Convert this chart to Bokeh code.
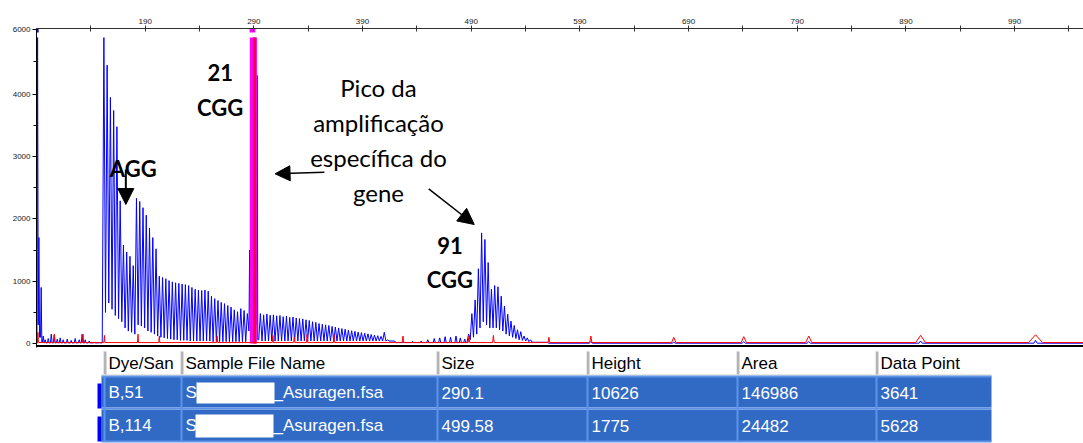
import numpy as np
from bokeh.plotting import figure
from bokeh.models import (Range1d, FixedTicker, CustomJSTickFormatter, Arrow,
                          NormalHead, Label, Span)
from bokeh.layouts import column
from bokeh.embed import file_html
from bokeh.resources import INLINE
from bokeh.core.properties import value

# ------------------------------------------------------------------ peak table
table_columns = ["Dye/San", "Sample File Name", "Size", "Height", "Area", "Data Point"]
dye_sample = ["B,51", "B,114"]
file_prefix = ["S", "S"]
file_suffix = ["_Asuragen.fsa", "_Asuragen.fsa"]
size_bp = [290.1, 499.58]
height_rfu = [10626, 1775]
area = [146986, 24482]
data_point = [3641, 5628]

# ------------------------------------------------------------------ axes
top_ticks = [190, 290, 390, 490, 590, 690, 790, 890, 990]
top_minor = [140, 240, 340, 440, 540, 640, 740, 840, 940, 1040]
left_ticks = [0, 1000, 2000, 3000, 4000, 6000]
left_minor = [500, 1500, 2500, 3500, 5000]

# ------------------------------------------------------------------ blue dye (sample)
primer_bp = [91.0, 92.2, 94.3]
primer_rfu = [6500, 1700, 900]
primer_floor = [300, 100, 20]

noise_bp = [96.2, 98.0, 100.8, 103.6, 106.3, 109.1, 111.8, 114.6, 118.3,
            121.9, 125.6, 129.3, 132.0, 134.8, 138.5, 143.1, 147.6]
noise_rfu = [120, 60, 80, 150, 140, 70, 90, 60, 70, 50, 80, 60, 150, 60, 40, 20, 15]

ladder_bp = [152, 155, 158, 161, 164, 167, 170, 173, 176, 179, 182, 185, 188,
             191, 194, 197, 200, 203, 206, 209, 212, 215, 218, 221, 224, 227,
             230, 233, 236, 239, 242, 245, 248, 251, 254, 257, 260, 263, 266,
             269, 272, 275, 278, 281, 284]
ladder_rfu = [6500, 4900, 3950, 3740, 3480, 2290, 1580, 1470, 1400, 1250, 2330,
              2280, 2180, 2060, 1850, 1700, 1520, 1080, 1060, 1040, 1010, 990,
              975, 965, 955, 945, 930, 900, 870, 855, 850, 860, 840, 760, 720,
              690, 660, 640, 610, 585, 540, 510, 560, 530, 480]
ladder_floor = [500, 650, 550, 450, 400, 350, 250, 200, 180, 150, 300, 280, 250,
                200, 180, 150, 120, 100, 90, 80, 70, 60, 60, 50, 50, 50, 40, 40,
                40, 40, 40, 40, 40, 30, 30, 30, 30, 30, 30, 30, 30, 30, 30, 30, 200]

main_bp = [286.1, 287.4, size_bp[0], 293.0]
main_rfu = [1500, 4200, height_rfu[0], 4585]
main_floor = [300, 300, 300, 60]

tail_bp = [296, 299, 302, 305, 308, 311, 314, 317, 320, 323, 326, 329, 332,
           335, 338, 341, 344, 347, 350, 353, 356, 359, 362, 365, 368, 371,
           374, 377, 380, 383, 386, 389, 392, 395, 398, 401, 404, 407, 410, 413]
tail_rfu = [480, 460, 475, 455, 460, 445, 450, 430, 440, 420, 425, 410, 400,
            395, 380, 370, 350, 340, 320, 310, 300, 290, 275, 265, 250, 240,
            230, 215, 205, 195, 185, 175, 165, 155, 145, 135, 125, 115, 180, 60]

gap_bp = [420, 428, 436, 444, 450, 456, 461, 466, 471, 476, 480, 484]
gap_rfu = [30, 20, 35, 40, 60, 80, 90, 110, 100, 120, 90, 70]

full_bp = [487.6, 490.6, 493.6, 496.6, size_bp[1], 502.6, 505.6, 508.6, 511.6,
           514.6, 517.6, 520.6, 523.6, 526.6, 529.6, 532.6, 535.6, 538.6, 541.6, 544.6]
full_rfu = [150, 480, 700, 1200, height_rfu[1], 1670, 1300, 870, 930, 910, 760,
            600, 470, 360, 290, 220, 190, 120, 90, 60]
full_floor = [60, 100, 150, 250, 350, 300, 250, 250, 250, 220, 200, 150, 120,
              100, 80, 60, 50, 40, 30, 20]

late_bp = [560.0, 600.1, 676.4, 740.8, 800.6, 903.5, 1009.3]
late_rfu = [20, 30, 20, 30, 30, 40, 50]

# ------------------------------------------------------------------ red dye (size standard)
red_bp = [91.3, 106.5, 132.8, 152.5, 183.4, 203.0, 256.2, 307.5, 327.2, 339.0,
          363.8, 427.2, 487.9, 510.4, 561.5, 600.1, 676.4, 740.8, 800.6, 903.5, 1009.3]
red_rfu = [180, 150, 150, 130, 150, 120, 120, 130, 100, 150, 140, 120, 130, 130,
           100, 120, 100, 110, 120, 130, 140]
red_halfwidth = [0.5, 0.5, 0.5, 0.5, 0.5, 0.5, 0.6, 0.6, 0.6, 0.6, 0.6, 0.7, 0.7,
                 0.7, 0.8, 1.0, 2.0, 2.5, 2.8, 4.5, 6.5]

# selected peak window and red pull-up under it
selected_start_bp, selected_end_bp = 286.3, 292.8
pullup_start_bp, pullup_end_bp = 289.3, 292.1

# ------------------------------------------------------------------ display helpers
SPLIT = 4000.0   # above this the scale is compressed
UPPER = 0.52
CEILING = 5750.0  # peaks taller than this are cut off


def axis_y(v):
    v = np.asarray(v, dtype=float)
    return np.where(v <= SPLIT, v, SPLIT + (v - SPLIT) * UPPER)


def trace(groups, start, end, base):
    xs, ys = [start], [base]
    prev = base
    for bp, rfu, floor, hw in groups:
        n = len(bp)
        floors = floor if isinstance(floor, list) else [floor] * n
        hws = hw if isinstance(hw, list) else [hw] * n
        for b, h, f, w in zip(bp, rfu, floors, hws):
            xs += [b - w, b, b + w]
            ys += [prev, h, f]
            prev = f
    xs.append(end)
    ys.append(prev)
    ys = axis_y(np.minimum(ys, CEILING))
    return xs, list(ys)


X0, X1 = 90.0, 1053.4
Y0, Y1 = -64.0, 5056.0

blue_x, blue_y = trace([
    (primer_bp, primer_rfu, primer_floor, 0.6),
    (noise_bp, noise_rfu, 10, 0.8),
    (ladder_bp, ladder_rfu, ladder_floor, 1.5),
    (main_bp, main_rfu, main_floor, 0.6),
    (tail_bp, tail_rfu, 40, 1.5),
    (gap_bp, gap_rfu, 15, 1.0),
    (full_bp, full_rfu, full_floor, 1.5),
    (late_bp, late_rfu, 5, 1.5),
], X0, X1, 0)

red_x, red_y = trace([(red_bp, red_rfu, 15, red_halfwidth)], X0, X1, 15)

# ------------------------------------------------------------------ electropherogram
p = figure(width=1083, height=349, x_range=Range1d(X0, X1), y_range=Range1d(Y0, Y1),
           x_axis_location="above", toolbar_location=None, output_backend="svg",
           min_border_left=36, min_border_right=0, min_border_top=28, min_border_bottom=2)
p.grid.visible = False
p.outline_line_color = None
p.background_fill_color = "white"

xa = p.xaxis[0]
xa.ticker = FixedTicker(ticks=top_ticks, minor_ticks=top_minor)
xa.axis_line_color = "#303030"
xa.major_tick_line_color = "#303030"
xa.minor_tick_line_color = "#303030"
xa.major_tick_in = 3
xa.major_tick_out = 3
xa.minor_tick_in = 3
xa.minor_tick_out = 3
xa.major_label_standoff = 2
xa.major_label_text_font = "Liberation Sans"
xa.major_label_text_font_size = "8px"
xa.major_label_text_color = "#202020"

ya = p.yaxis[0]
ya.ticker = FixedTicker(ticks=list(axis_y(left_ticks)), minor_ticks=list(axis_y(left_minor)))
ya.formatter = CustomJSTickFormatter(
    args=dict(split=SPLIT, k=UPPER),
    code="return String(Math.round(tick <= split ? tick : split + (tick - split) / k));")
ya.axis_line_color = "black"
ya.major_tick_line_color = "black"
ya.minor_tick_line_color = "black"
ya.major_tick_in = 0
ya.major_tick_out = 4
ya.minor_tick_in = 0
ya.minor_tick_out = 3
ya.major_label_standoff = 2
ya.major_label_text_font = "Liberation Sans"
ya.major_label_text_font_size = "8px"
ya.major_label_text_color = "#202020"

top = float(axis_y(CEILING))

# blue sample trace
p.line(blue_x, blue_y, line_color="#0000ff", line_width=1)

# highlighted (selected) peak and the red pull-up inside it
p.varea(x=[selected_start_bp, selected_end_bp], y1=[0, 0], y2=[top, top], fill_color="#ff00ff")
p.varea(x=[pullup_start_bp, pullup_end_bp], y1=[0, 0], y2=[top, top], fill_color="#f0003c")

# red size-standard trace
p.line(red_x, red_y, line_color="#ff0000", line_width=1)

# peak markers along the top edge
p.quad(left=[primer_bp[0] - 1.7, size_bp[0] - 4.0], right=[primer_bp[0] + 1.0, size_bp[0] + 1.2],
       bottom=[4990, 4990], top=[Y1, Y1], fill_color=["#0000ff", "#ff00ff"], line_color=None)

p.add_layout(Span(location=-40, dimension="width", line_color="black", line_width=2))

# annotations
ann_font = "Lato"


def label(x, rfu, text, bold=False, size="22px"):
    p.add_layout(Label(x=x, y=float(axis_y(rfu)), text=text, text_align="center",
                       text_baseline="alphabetic", text_font=ann_font,
                       text_font_size=size, text_color="black",
                       text_font_style="bold" if bold else "normal"))


label(259.0, 4683, "21", bold=True)
label(259.0, 3793, "CGG", bold=True)
label(179.0, 2804, "AGG", bold=True)
label(470.4, 1573, "91", bold=True)
label(470.4, 1022, "CGG", bold=True)
label(404.7, 4219, "Pico da", size="24px")
label(404.7, 3552, "amplificação", size="24px")
label(404.7, 2990, "específica do", size="24px")
label(404.7, 2429, "gene", size="24px")


def arrow(x0, r0, x1, r1, width, head):
    p.add_layout(Arrow(end=NormalHead(size=head, fill_color="black", line_color="black"),
                       x_start=x0, y_start=float(axis_y(r0)), x_end=x1, y_end=float(axis_y(r1)),
                       line_color="black", line_width=width))


arrow(172.2, 2793, 172.2, 2231, 2, 16)
arrow(354.9, 2750, 309.5, 2724, 1.5, 15)
arrow(450.9, 2483, 492.8, 1910, 1.5, 16)

# ------------------------------------------------------------------ peak table
# the table canvas shares the chart's frame, so x runs 36..1083 in pixels
COL_EDGES = [104, 181, 437, 587, 737, 876, 991]
ROW_TOP = [27, 60]
ROW_BOTTOM = [58, 92]
ROW_MID = [43, 76]

t = figure(width=1083, height=94, x_range=Range1d(36, 1083), y_range=Range1d(94, 0),
           toolbar_location=None, output_backend="svg",
           min_border_left=36, min_border_right=0, min_border_top=0, min_border_bottom=0,
           x_axis_location=None, y_axis_location=None)
t.grid.visible = False
t.outline_line_color = None

# header separators
t.quad(left=[e - 1 for e in COL_EDGES[:-1]], right=[e + 2 for e in COL_EDGES[:-1]],
       top=2, bottom=25, fill_color="#b4b4b4", line_color=None)
t.segment(x0=[e - 1 for e in COL_EDGES[:-1]], y0=2, x1=[e - 1 for e in COL_EDGES[:-1]], y1=25,
          line_color="#e6e6e6", line_width=1)
t.segment(x0=101, y0=25.5, x1=991, y1=25.5, line_color="#d0d0d0", line_width=1)

# selected rows
t.quad(left=101, right=991, top=ROW_TOP, bottom=ROW_BOTTOM, fill_color="#316ac5", line_color=None)
t.segment(x0=COL_EDGES[:-1], y0=27, x1=COL_EDGES[:-1], y1=92, line_color="#5e93ea", line_width=2)
t.segment(x0=101, y0=[27, 59, 92], x1=991, y1=[27, 59, 92], line_color="#5e93ea", line_width=2)
t.quad(left=97, right=101, top=[34, 67], bottom=[59, 92], fill_color="#0000ff", line_color=None)

txt = dict(text_font=value("Liberation Sans"), text_font_size="17px", text_baseline="middle")
t.text(x=[e + 4 for e in COL_EDGES[:-1]], y=14, text=table_columns, text_color="black", **txt)

for i in range(2):
    cells = [dye_sample[i], file_prefix[i], str(size_bp[i]), str(height_rfu[i]),
             str(area[i]), str(data_point[i])]
    t.text(x=[e + 4 for e in COL_EDGES[:-1]], y=ROW_MID[i], text=cells, text_color="white", **txt)
    t.text(x=[273], y=ROW_MID[i], text=[file_suffix[i]], text_color="white", **txt)

# redacted part of the file names
t.text(x=[226], y=[43], text=["_"], text_color="white", **txt)
t.quad(left=[196, 195], right=[274, 273], top=[33, 65], bottom=[54, 88],
       fill_color="white", line_color=None)

layout = column(p, t, spacing=0)
open("out.html", "w").write(file_html(layout, INLINE))
